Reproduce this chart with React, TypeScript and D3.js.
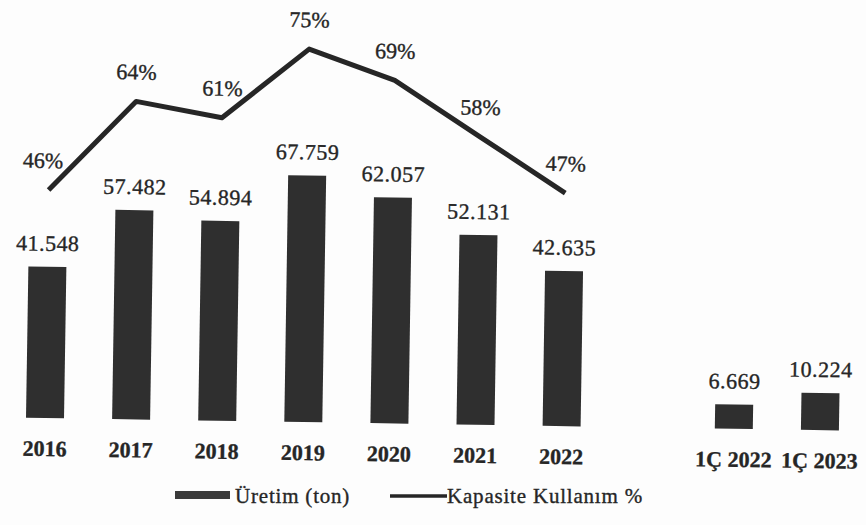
import React from 'react';
import * as d3 from 'd3';

// Annual production (ton) and capacity usage (%)
const YEARS = ['2016', '2017', '2018', '2019', '2020', '2021', '2022'];
const PRODUCTION = [41548, 57482, 54894, 67759, 62057, 52131, 42635];
const CAPACITY = [46, 64, 61, 75, 69, 58, 47];

// First-quarter production
const QUARTERS = ['1Ç 2022', '1Ç 2023'];
const QUARTER_PRODUCTION = [6669, 10224];

const LEGEND_BAR = 'Üretim (ton)';
const LEGEND_LINE = 'Kapasite Kullanım %';

const W = 866, H = 525;
const BASE = 418;
const FONT = "'Liberation Serif'";
const INK = '#262626';

const trLocale = d3.formatLocale({ decimal: ',', thousands: '.', grouping: [3], currency: ['', ''] });
const fmt = trLocale.format(',d');

export default function App() {
  // empty slot between the yearly and the quarterly group
  const x = d3.scalePoint<string>()
    .domain([...YEARS, 'gap', ...QUARTERS])
    .range([45, 820]);
  const barW = 38;

  const yBar = d3.scaleLinear().domain([0, 100000]).range([BASE, BASE - 364]);
  const yPct = d3.scaleLinear().domain([0, 100]).range([BASE + 2, BASE + 2 - 500]);

  const bars = [
    ...YEARS.map((k, i) => ({ key: k, value: PRODUCTION[i] })),
    ...QUARTERS.map((k, i) => ({ key: k, value: QUARTER_PRODUCTION[i] })),
  ];

  const line = d3.line<number>()
    .x((_, i) => x(YEARS[i]) as number)
    .y(d => yPct(d));

  // slight stroke to mimic the heavier scanned print
  const txt = { fontFamily: FONT, fill: INK, stroke: INK, strokeWidth: 0.35 };

  return (
    <svg width={W} height={H} style={{ position: 'absolute', left: 0, top: 0, background: '#fdfdfd' }}>
      <g transform={`rotate(0.9, 45, ${BASE})`}>
        {bars.map(b => {
          const cx = x(b.key) as number;
          return (
            <g key={b.key}>
              <rect x={cx - barW / 2} y={yBar(b.value)} width={barW} height={BASE - yBar(b.value)} fill="#2f2f2f" />
              <text x={cx} y={yBar(b.value) - 16} textAnchor="middle" style={{ ...txt, fontSize: 22, letterSpacing: 0.5 }}>{fmt(b.value)}</text>
              <text x={cx} y={BASE + 38} textAnchor="middle" style={{ ...txt, fontSize: 22, fontWeight: 'bold' }}>{b.key}</text>
            </g>
          );
        })}
        <path d={line(CAPACITY) || ''} fill="none" stroke={INK} strokeWidth={5} strokeLinejoin="round" />
        {CAPACITY.map((v, i) => (
          <text key={i} x={(x(YEARS[i]) as number) - (i === 0 ? 6 : 0)} y={yPct(v) - 22}
            textAnchor="middle" style={{ ...txt, fontSize: 22 }}>{v}%</text>
        ))}
      </g>
      <rect x={175} y={491} width={55} height={8} fill="#3a3a3a" />
      <text x={235} y={503} style={{ ...txt, fontSize: 21, letterSpacing: 0.8 }}>{LEGEND_BAR}</text>
      <line x1={390} x2={447} y1={496} y2={496} stroke={INK} strokeWidth={3.5} />
      <text x={447} y={503} style={{ ...txt, fontSize: 21, letterSpacing: 0.8 }}>{LEGEND_LINE}</text>
    </svg>
  );
}
